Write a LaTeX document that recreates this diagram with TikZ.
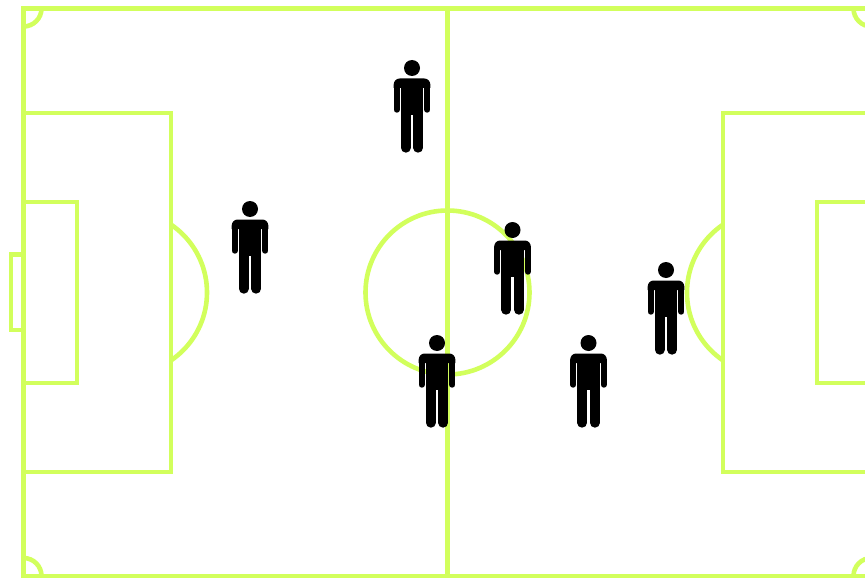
\documentclass[tikz,border=0pt]{standalone}
\usetikzlibrary{calc}
\definecolor{COLOR1}{HTML}{D2FF5C}
\tikzset{
    Pitch/.style={draw=COLOR1,line width=4.6pt},
}
\def\Player[at #1/#2]{
    \begin{scope}[shift={(#1,#2)}]
        \fill (0,0) circle (8pt); % head
        \fill (-18.3,20) [rounded corners=6pt] -- (-18.3,10.5) -- (18.3,10.5) [sharp corners] -- (18.3,20) -- cycle;
        \fill (-11.3,18) rectangle (11.3,47);
        \draw[line width=6pt,line cap=round] (-15.3,18) -- (-15.3,41.7);
        \draw[line width=6pt,line cap=round] (15.3,18) -- (15.3,41.7);
        \draw[line width=10pt,line cap=round] (-6.3,45) -- (-6.3,79.7);
        \draw[line width=10pt,line cap=round] (6.3,45) -- (6.3,79.7);
    \end{scope}
}
\begin{document}
\begin{tikzpicture}[x=1pt,y=-1pt]
    \useasboundingbox (0,0) rectangle (865,578);
    \clip (0,0) rectangle (865,578);
    \fill[white] (0,0) rectangle (865,578);

    \draw[Pitch] (23.5,8.5) rectangle (871.5,576);
    \draw[Pitch] (447.5,8.5) -- (447.5,576);
    \draw[Pitch] (447.5,292.5) circle (82pt);

    % boxes
    \draw[Pitch] (23.5,113) rectangle (171,472);
    \draw[Pitch] (23.5,202) rectangle (77,383);
    \draw[Pitch] (23.5,254.5) -- (11,254.5) -- (11,330) -- (23.5,330);
    \draw[Pitch] (871.5,113) rectangle (723,472);
    \draw[Pitch] (871.5,202) rectangle (817,383);

    % arcs
    \begin{scope}
        \clip (171,0) rectangle (300,578);
        \draw[Pitch] (125,292.5) circle (82pt);
    \end{scope}
    \begin{scope}
        \clip (600,0) rectangle (723,578);
        \draw[Pitch] (769,292.5) circle (82pt);
    \end{scope}

    % corners
    \begin{scope}
        \clip (23.5,8.5) rectangle (871.5,576);
        \foreach \a/\b in {23.5/8.5,871.5/8.5,23.5/576,871.5/576}{\draw[Pitch] (\a,\b) circle (18pt);}
    \end{scope}

    \foreach \a/\b in {412/68,250/209,512.5/230,437/343,588.5/343,666/270}{\Player[at \a/\b]}
\end{tikzpicture}
\end{document}
